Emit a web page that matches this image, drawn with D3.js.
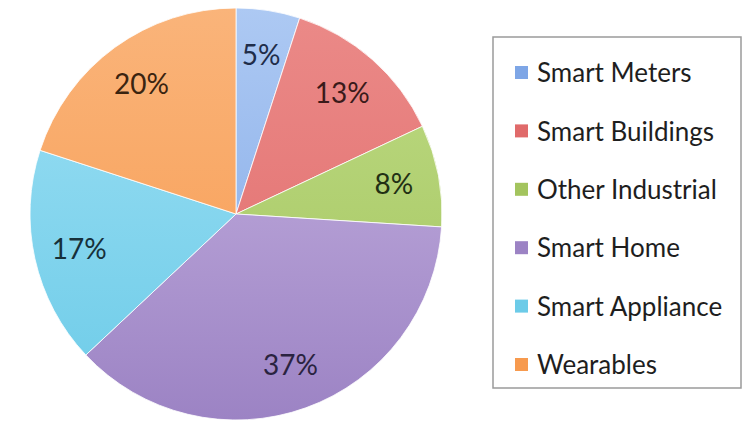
<!DOCTYPE html>
<html>
<head>
<meta charset="utf-8">
<script src="https://cdn.jsdelivr.net/npm/d3@7"></script>
<style>
  html, body { margin: 0; padding: 0; background: #fff; }
  svg { display: block; }
</style>
</head>
<body>
<svg></svg>
<script>
// Categories and their shares (percent)
let categories = ['Smart Meters', 'Smart Buildings', 'Other Industrial', 'Smart Home', 'Smart Appliance', 'Wearables'];
let shares = [5, 13, 8, 37, 17, 20];

// Light / dark tone for each slice gradient
let lightColors = ['#adc9f3', '#eb8a88', '#bedb84', '#c9b6e3', '#9ee0f4', '#fab47a'];
let darkColors = ['#7ea6e6', '#e06a6a', '#a3c45e', '#9c83c4', '#6ccbe8', '#f79a4e'];
let labelColors = ['#1f2d4a', '#3a1a1a', '#223014', '#2a2340', '#17303a', '#3a2410'];

let svgWidth = 743;
let svgHeight = 424;

let cx = 236;
let cy = 214;
let radius = 206;

let data = categories.map((c, i) => ({ name: c, value: shares[i], index: i }));

let svg = d3.select('svg')
  .attr('width', svgWidth)
  .attr('height', svgHeight);

// Vertical gradients across the whole pie (in the pie group's coordinates)
let defs = svg.append('defs');
data.forEach(d => {
  let g = defs.append('linearGradient')
    .attr('id', 'grad-' + d.index)
    .attr('gradientUnits', 'userSpaceOnUse')
    .attr('x1', 0).attr('y1', -radius)
    .attr('x2', 0).attr('y2', radius);
  g.append('stop').attr('offset', '0%').attr('stop-color', lightColors[d.index]);
  g.append('stop').attr('offset', '100%').attr('stop-color', darkColors[d.index]);
});

let pie = d3.pie()
  .sort(null)
  .value(d => d.value);

let arc = d3.arc()
  .innerRadius(0)
  .outerRadius(radius);

let labelArc = d3.arc()
  .innerRadius(radius * 0.78)
  .outerRadius(radius * 0.78);

let chart = svg.append('g')
  .attr('transform', 'translate(' + cx + ', ' + cy + ')');

let arcs = pie(data);

chart.selectAll('path.slice')
  .data(arcs)
  .enter()
  .append('path')
  .attr('class', 'slice')
  .attr('d', arc)
  .attr('fill', d => 'url(#grad-' + d.data.index + ')')
  .attr('stroke', '#ffffff')
  .attr('stroke-width', 0.8);

chart.selectAll('text.pct')
  .data(arcs)
  .enter()
  .append('text')
  .attr('class', 'pct')
  .attr('x', d => labelArc.centroid(d)[0])
  .attr('y', d => labelArc.centroid(d)[1])
  .attr('dy', '0.35em')
  .attr('text-anchor', 'middle')
  .attr('font-family', 'Lato, sans-serif')
  .attr('font-size', '28px')
  .attr('fill', d => labelColors[d.data.index])
  .text(d => d.data.value + '%');

// Legend
let legendBox = { x: 493, y: 37, w: 248, h: 351 };

let legend = svg.append('g')
  .attr('class', 'legend');

legend.append('rect')
  .attr('x', legendBox.x)
  .attr('y', legendBox.y)
  .attr('width', legendBox.w)
  .attr('height', legendBox.h)
  .attr('fill', '#ffffff')
  .attr('stroke', '#9a9a9a')
  .attr('stroke-width', 1.5);

let rowScale = d3.scalePoint()
  .domain(categories)
  .range([73, 365]);

let rows = legend.selectAll('g.item')
  .data(data)
  .enter()
  .append('g')
  .attr('class', 'item')
  .attr('transform', d => 'translate(515, ' + rowScale(d.name) + ')');

rows.append('rect')
  .attr('x', 0)
  .attr('y', -7)
  .attr('width', 13)
  .attr('height', 13)
  .attr('fill', d => darkColors[d.index]);

rows.append('text')
  .attr('x', 22)
  .attr('y', 0)
  .attr('dy', '0.35em')
  .attr('font-family', 'Lato, sans-serif')
  .attr('font-size', '26px')
  .attr('fill', '#1e1e1e')
  .text(d => d.name);
</script>
</body>
</html>
